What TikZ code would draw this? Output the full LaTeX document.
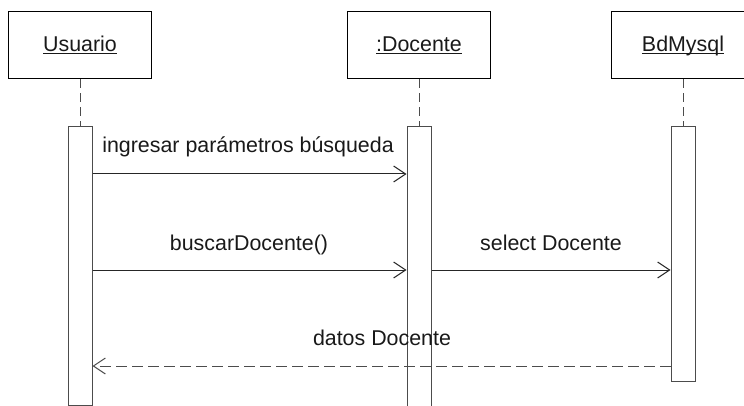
\documentclass[tikz,border=0pt]{standalone}
\usepackage{fontspec}
\setmainfont{Liberation Sans}
\usetikzlibrary{arrows.meta}
\begin{document}
\begin{tikzpicture}[x=1pt,y=-1pt, font=\fontsize{21.4}{25}\selectfont,
  objbox/.style={draw=black, line width=1pt, minimum width=143pt, minimum height=67pt, inner sep=0pt},
  actbox/.style={draw=black!70, line width=1pt, minimum width=24pt, inner sep=0pt},
  lifeline/.style={draw=black!70, line width=1pt, dash pattern=on 9pt off 5pt},
  msg/.style={draw=black!85, line width=1pt, -{Straight Barb[length=12pt,width=16pt,line width=1pt]}},
  ret/.style={msg, draw=black!70, dash pattern=on 11pt off 5pt},
  lbl/.style={anchor=base, inner sep=0pt, text=black!90}]
\useasboundingbox (0,0) rectangle (744,406);
\clip (0,0) rectangle (744,406);
% objects
\node[objbox] (uBox) at (80,45.5) {};
\node[objbox] (dBox) at (419,45.5) {};
\node[objbox] (bBox) at (683,45.5) {};
\node[lbl] (uName) at (80,52) {\underline{\smash{Usuario}}};
\node[lbl] (dName) at (419,52) {\underline{\smash{:Docente}}};
\node[lbl] (bName) at (683,52) {\underline{\smash{BdMysql}}};
% activations
\node[actbox, minimum height=278pt] (uAct) at (80,266) {};
\node[actbox, minimum height=300pt] (dAct) at (419,277) {};
\node[actbox, minimum height=254pt] (bAct) at (683,254) {};
% lifelines
\draw[lifeline] (uBox.south) -- (uAct.north);
\draw[lifeline] (dBox.south) -- (dAct.north);
\draw[lifeline] (bBox.south) -- (bAct.north);
% messages
\coordinate (m1) at (0,174);
\coordinate (m2) at (0,270);
\coordinate (m3) at (0,366);
\draw[msg] (uAct.east |- m1) -- (dAct.west |- m1);
\draw[msg] (uAct.east |- m2) -- (dAct.west |- m2);
\draw[msg] (dAct.east |- m2) -- (bAct.west |- m2);
\draw[ret] (bAct.west |- m3) -- (uAct.east |- m3);
% labels
\node[lbl] (l1) at (248,153) {ingresar parámetros búsqueda};
\node[lbl] (l2) at (249,250) {buscarDocente()};
\node[lbl] (l3) at (551,250) {select Docente};
\node[lbl] (l4) at (382,345) {datos Docente};
\end{tikzpicture}
\end{document}
